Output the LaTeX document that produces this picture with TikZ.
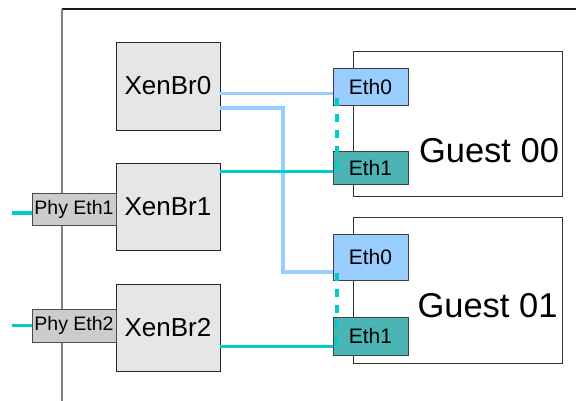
\documentclass[tikz,border=0pt]{standalone}
\usepackage{fontspec}
\setmainfont{Liberation Sans}
\definecolor{brfill}{HTML}{E6E6E6}
\definecolor{phyfill}{HTML}{CCCCCC}
\definecolor{ethzero}{HTML}{99CCFF}
\definecolor{ethone}{HTML}{4BB5B5}
\definecolor{cyanline}{HTML}{00CCCC}
\definecolor{blueline}{HTML}{99CCFF}
\tikzset{
  bridge/.style={rectangle,draw=black!85,fill=brfill,minimum width=104pt,minimum height=87pt,inner sep=0,font=\fontsize{26}{30}\selectfont},
  phy/.style={rectangle,draw=black!70,fill=phyfill,minimum width=84pt,minimum height=32pt,inner sep=0,font=\fontsize{19.5}{23}\selectfont},
  guest/.style={rectangle,draw=black!80,fill=white,minimum width=209pt,minimum height=145pt,inner sep=0},
  guestlbl/.style={inner sep=0,font=\fontsize{34.5}{40}\selectfont},
  ethz/.style={rectangle,draw=black!75,fill=ethzero,minimum width=75pt,inner sep=0,font=\fontsize{21}{25}\selectfont},
  etho/.style={rectangle,draw=black!75,fill=ethone,minimum width=75pt,inner sep=0,font=\fontsize{21}{25}\selectfont},
  blan/.style={line width=3.5pt,blueline},
  clan/.style={line width=3.2pt,cyanline},
  clink/.style={line width=3.8pt,cyanline,dash pattern=on 8pt off 8pt},
}
\begin{document}
\begin{tikzpicture}[x=1pt,y=-1pt]
\useasboundingbox (0,0) rectangle (576,401);
% host
\draw[black!90,line width=1.2pt] (62,9) -- (576,9);
\draw[black!50,line width=1.5pt] (62,9) -- (62,401);
% guests
\draw (457.5,123.5) node[guest] (g00) {};
\draw (457.5,290) node[guest,minimum height=146pt] (g01) {};
\draw (489,150.5) node[guestlbl] (g00lbl) {Guest 00};
\draw (487.5,306) node[guestlbl] (g01lbl) {Guest 01};
% bridges
\draw (168,86) node[bridge,minimum height=88pt] (br0) {XenBr0};
\draw (168,206.5) node[bridge] (br1) {XenBr1};
\draw (168,327.5) node[bridge] (br2) {XenBr2};
\draw (74,209) node[phy] (phy1) {Phy Eth1};
\draw (74,325.5) node[phy,minimum height=33pt] (phy2) {Phy Eth2};
\coordinate (up1) at (12,213);
\coordinate (up2) at (12,325.5);
\coordinate (bend) at (283,272);
% guest nics
\draw (370.5,86.5) node[ethz,minimum height=37pt] (eth00) {Eth0};
\draw (370.5,167.5) node[etho,minimum height=33pt] (eth10) {Eth1};
\draw (370.5,257) node[ethz,minimum height=46pt] (eth01) {Eth0};
\draw (370.5,336) node[etho,minimum height=38pt] (eth11) {Eth1};
% links
\draw[clan] (up1) -- (up1 -| phy1.west);
\draw[clan] (up2) -- (up2 -| phy2.west);
\draw[blan] (br0.-8) -- (br0.-8 -| eth00.west);
\draw[blan] (br0.-23) -| (bend) -- (bend -| eth01.west);
\draw[clan] (br1.34) -- (br1.34 -| eth10.west);
\draw[clan] (br2.-20) -- (br2.-20 -| eth11.west);
\draw[clink] ([xshift=4pt,yshift=7pt]eth00.south west) -- ([xshift=4pt,yshift=-19pt]eth10.north west);
\draw[clink] ([xshift=4pt,yshift=7pt]eth01.south west) -- ([xshift=4pt,yshift=-30pt]eth11.north west);
\end{tikzpicture}
\end{document}
